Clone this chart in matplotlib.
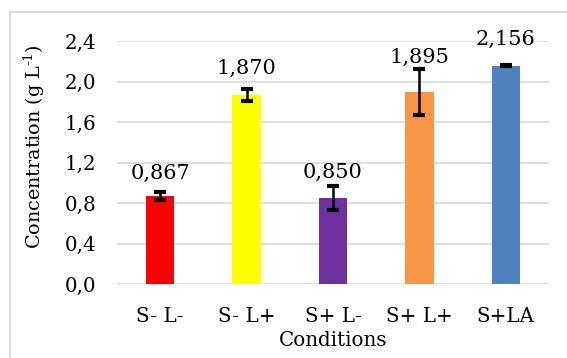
import matplotlib
matplotlib.use("Agg")
import matplotlib.pyplot as plt
from matplotlib.patches import Rectangle

categories = ["S- L-", "S- L+", "S+ L-", "S+ L+", "S+LA"]
values = [0.867, 1.870, 0.850, 1.895, 2.156]
errors = [0.040, 0.060, 0.118, 0.224, 0.004]
labels = ["0,867", "1,870", "0,850", "1,895", "2,156"]
yticks = [0.0, 0.4, 0.8, 1.2, 1.6, 2.0, 2.4]
ytick_labels = ["0,0", "0,4", "0,8", "1,2", "1,6", "2,0", "2,4"]
colors = ["#FF0000", "#FFFF00", "#7030A0", "#F79646", "#4F81BD"]
label_offsets_px = [14, 17, 16, 25, 17]

plt.rcParams['font.family'] = ['DejaVu Serif']
plt.rcParams['mathtext.fontset'] = 'dejavuserif'

W, H = 567, 358
fig = plt.figure(figsize=(W / 100, H / 100), dpi=100)
ax = fig.add_axes([117 / W, (H - 284.3) / H, 432 / W, 243.3 / H])

x = list(range(len(categories)))
ax.bar(x, values, width=0.33, color=colors, zorder=3)
ax.errorbar(x, values, yerr=errors, fmt='none', ecolor='black',
            elinewidth=1.8, capsize=4, capthick=3, zorder=4)

for xi, v, lab, off in zip(x, values, labels, label_offsets_px):
    ax.annotate(lab, (xi, v), xytext=(0, off * 0.72), textcoords='offset points',
                ha='center', va='bottom', fontsize=15, zorder=5)

ax.set_xlim(-0.5, len(categories) - 0.5)
ax.set_ylim(0, 2.4)
ax.set_yticks(yticks)
ax.set_yticklabels(ytick_labels)
ax.set_xticks(x)
ax.set_xticklabels(categories)
ax.tick_params(axis='both', length=0, labelsize=14.3)
ax.tick_params(axis='y', pad=15)
ax.tick_params(axis='x', pad=16)
for s in ax.spines.values():
    s.set_visible(False)
ax.yaxis.grid(True, color='#d9d9d9', linewidth=1.2, zorder=0)
ax.set_axisbelow(True)

ax.set_xlabel("Conditions", fontsize=14.3)
ax.xaxis.set_label_coords(0.5, -0.19)
ax.set_ylabel(r"Concentration (g L$^{\text{-1}}$)", fontsize=13.8)
ax.yaxis.set_label_coords(-0.163, 0.568)

fig.patches.append(Rectangle((10 / W, -0.2), 1.2, 1.2 - 12 / H,
                             transform=fig.transFigure, fill=False,
                             edgecolor='#d9d9d9', linewidth=1.5))

fig.savefig("out.png", dpi=100, facecolor='white')
